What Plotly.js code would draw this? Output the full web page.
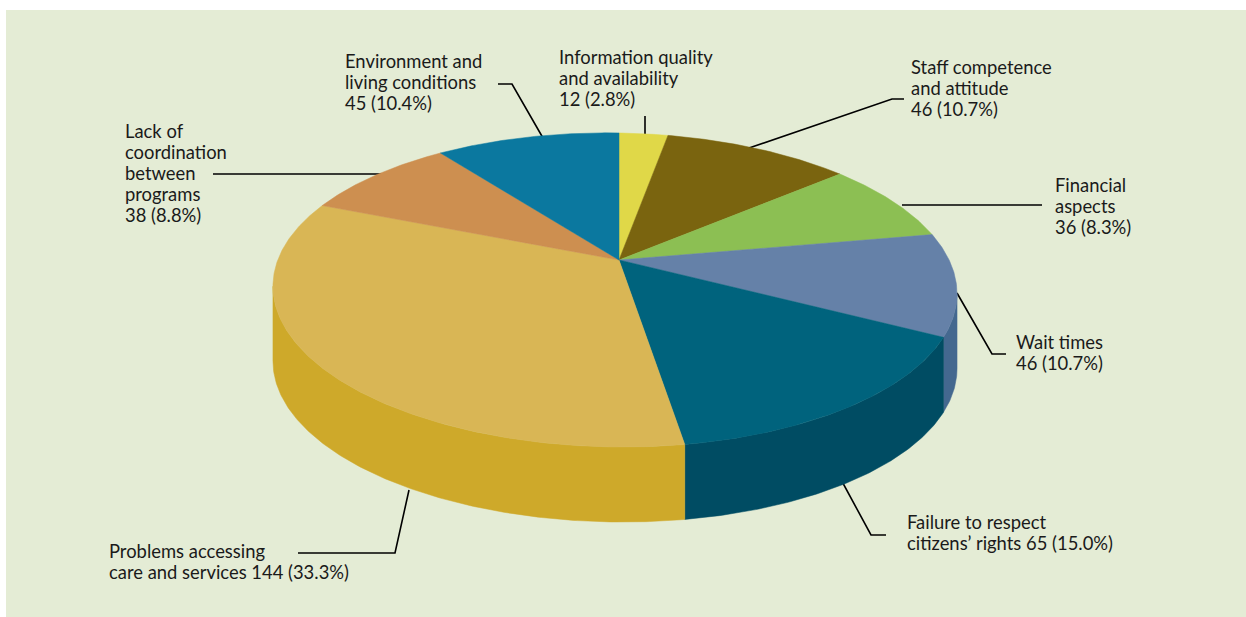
<!DOCTYPE html>
<html>
<head>
<meta charset="utf-8">
<script src="https://cdn.plot.ly/plotly-3.0.1.min.js"></script>
<style>html,body{margin:0;padding:0;background:#fff}#chart{width:1246px;height:617px}</style>
</head>
<body>
<div id="chart"></div>
<script>
// Complaint categories, clockwise from twelve o'clock
const categories = [
  'Information quality<br>and availability',
  'Staff competence<br>and attitude',
  'Financial<br>aspects',
  'Wait times',
  'Failure to respect<br>citizens\u2019 rights',
  'Problems accessing<br>care and services',
  'Lack of<br>coordination<br>between<br>programs',
  'Environment and<br>living conditions'
];
const counts = [12, 46, 36, 46, 65, 144, 38, 45];
const shares = ['2.8%', '10.7%', '8.3%', '10.7%', '15.0%', '33.3%', '8.8%', '10.4%'];
// Two labels run the count straight on after the name
const countSeparators = ['<br>', '<br>', '<br>', '<br>', ' ', ' ', '<br>', '<br>'];

const topColors = ['#E0D848', '#7A640F', '#8CBF53', '#6581A8', '#00637D', '#D9B655', '#CD8F50', '#0B789F'];
const wallColors = [null, null, null, '#44688F', '#004C63', '#CEA92A', null, null];

// Label anchors: left edge and middle of the first line
const labelX = [559, 911, 1055, 1016, 907, 109, 125, 345];
const labelY = [57, 67, 185, 342, 522, 551, 131, 61];
const lineStep = 21;

// Leader lines as x / y runs, one per slice
const leaderX = [[645, 645], [904, 892, 749], [1042, 902], [957, 992, 1006], [838, 871, 886], [298, 395, 409], [213, 388], [498, 512, 543]];
const leaderY = [[116, 136], [99, 99, 148], [205, 205], [293, 354, 354], [474, 535, 535], [553, 553, 490], [174, 174], [84, 84, 138]];

// Perspective view of the disc
const view = {cx: 619, cy: 260, a: 335.7, b: 151.3, k: 0.191, m: 0.0115, tilt: -4, depth: 75};
const DEG = Math.PI / 180;

function project(theta) {
  const u = Math.sin(theta), v = Math.cos(theta), w = 1 + view.k * v + view.m * u;
  return [view.cx + view.a * u / w, view.cy - (view.b * v + view.tilt * u) / w];
}

const total = counts.reduce((s, c) => s + c, 0);
const starts = [];
let running = 0;
counts.forEach(c => { starts.push(running / total * 2 * Math.PI); running += c; });

function arc(a, b) {
  const n = Math.max(2, Math.ceil((b - a) / (0.5 * DEG)));
  const pts = [];
  for (let i = 0; i <= n; i++) pts.push(project(a + (b - a) * i / n));
  return pts;
}

// The wall only shows between the two silhouette points of the rim
const limitRight = Math.acos(-view.k);
const limitLeft = 2 * Math.PI - limitRight;

const traces = [];
leaderX.forEach((xs, i) => {
  traces.push({
    type: 'scatter', mode: 'lines', x: xs, y: leaderY[i],
    line: {color: '#000', width: 1.6}, hoverinfo: 'skip'
  });
});
counts.forEach((c, i) => {
  if (!wallColors[i]) return;
  const a = Math.max(starts[i], limitRight);
  const b = Math.min(starts[i] + c / total * 2 * Math.PI, limitLeft);
  const rim = arc(a, b);
  const low = rim.slice().reverse().map(p => [p[0], p[1] + view.depth]);
  const outline = rim.concat(low);
  outline.push(rim[0]);
  traces.push({
    type: 'scatter', mode: 'lines', fill: 'toself', name: categories[i],
    x: outline.map(p => p[0]), y: outline.map(p => p[1]),
    fillcolor: wallColors[i], line: {color: wallColors[i], width: 0.5}, hoverinfo: 'skip'
  });
});
counts.forEach((c, i) => {
  const rim = arc(starts[i], starts[i] + c / total * 2 * Math.PI);
  const outline = [[view.cx, view.cy]].concat(rim, [[view.cx, view.cy]]);
  traces.push({
    type: 'scatter', mode: 'lines', fill: 'toself', name: categories[i],
    x: outline.map(p => p[0]), y: outline.map(p => p[1]),
    fillcolor: topColors[i], line: {color: topColors[i], width: 0.5}, hoverinfo: 'skip'
  });
});

// Each text line is its own annotation so the leading stays tighter than the default
const annotations = [];
categories.forEach((name, i) => {
  const full = name + countSeparators[i] + counts[i] + ' (' + shares[i] + ')';
  full.split('<br>').forEach((line, j) => {
    annotations.push({
      xref: 'x', yref: 'y', x: labelX[i], y: labelY[i] + j * lineStep,
      xanchor: 'left', yanchor: 'middle', align: 'left', showarrow: false,
      borderpad: 0, borderwidth: 0, text: line,
      font: {family: 'Lato, sans-serif', size: 18.4, color: '#1a1a1a'}
    });
  });
});

const hiddenAxis = {visible: false, showgrid: false, zeroline: false, fixedrange: true};
Plotly.newPlot('chart', traces, {
  width: 1246, height: 617,
  margin: {l: 0, r: 0, t: 0, b: 0},
  paper_bgcolor: '#fff', plot_bgcolor: 'rgba(0,0,0,0)',
  showlegend: false,
  xaxis: Object.assign({range: [0, 1246]}, hiddenAxis),
  yaxis: Object.assign({range: [617, 0]}, hiddenAxis),
  shapes: [{type: 'rect', xref: 'x', yref: 'y', x0: 6, x1: 1246, y0: 10, y1: 617,
            fillcolor: '#E4ECD5', line: {width: 0}, layer: 'below'}],
  annotations: annotations
}, {displayModeBar: false, staticPlot: true});
</script>
</body>
</html>
